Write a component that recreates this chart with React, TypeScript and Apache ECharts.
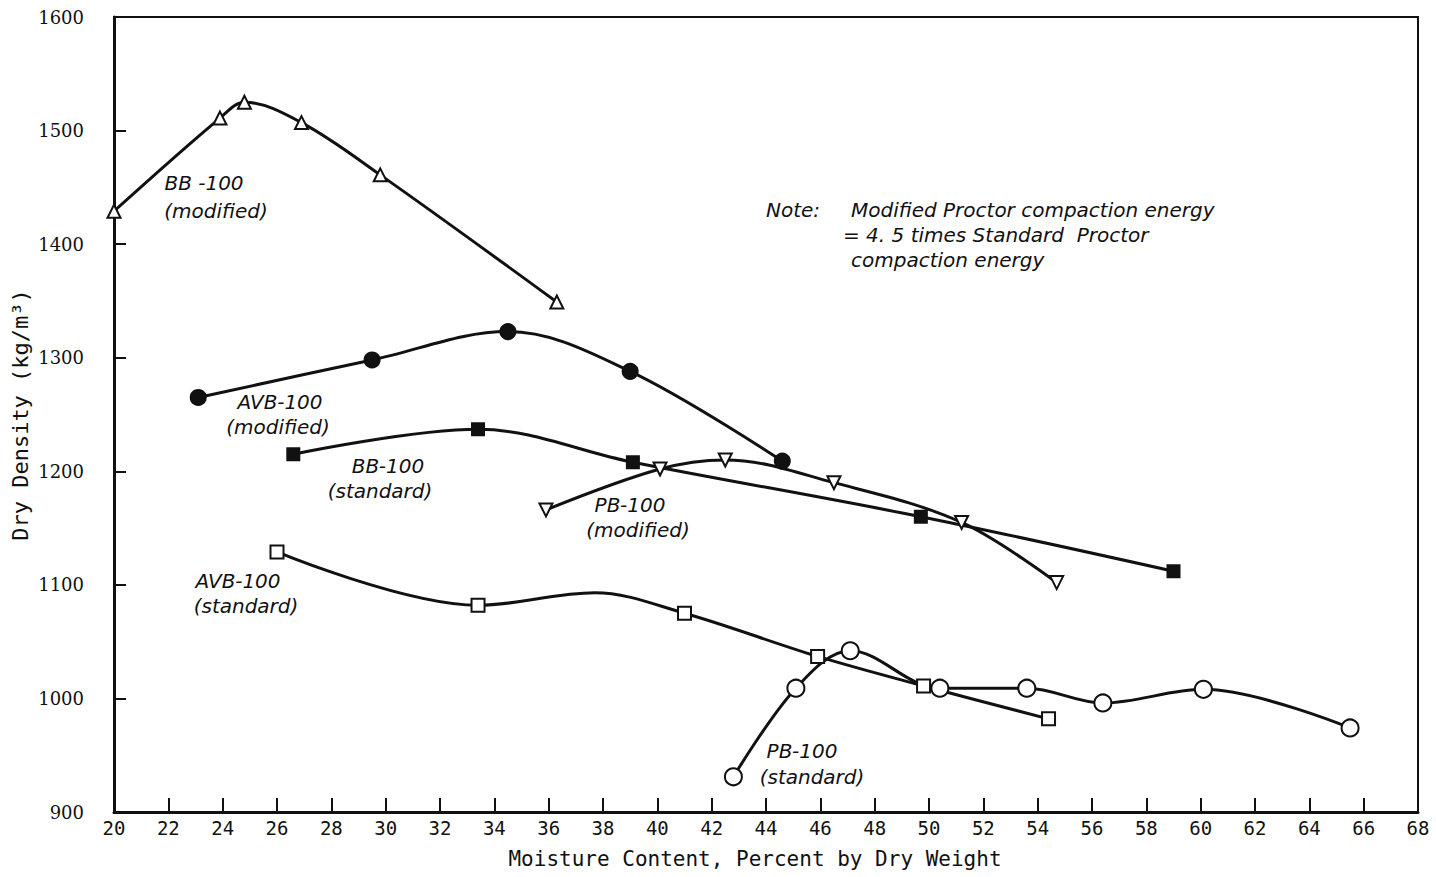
import { useEffect, useRef } from "react";
import * as echarts from "echarts";

// Compaction curves: moisture content (%) vs dry density (kg/m³)
const bbModX = [20.0, 23.9, 24.8, 26.9, 29.8, 36.3];
const bbModY = [1429, 1511, 1525, 1507, 1461, 1349];

const avbModX = [23.1, 29.5, 34.5, 39.0, 44.6];
const avbModY = [1265, 1298, 1323, 1288, 1209];

const bbStdX = [26.6, 33.4, 39.1, 49.7, 59.0];
const bbStdY = [1215, 1237, 1208, 1160, 1112];

const pbModX = [35.9, 40.1, 42.5, 46.5, 51.2, 54.7];
const pbModY = [1166, 1202, 1210, 1190, 1155, 1102];

// the 37.7 vertex is a bend of the drawn curve, not a test point
const avbStdX = [26.0, 33.4, 37.7, 41.0, 45.9, 49.8, 54.4];
const avbStdY = [1129, 1082, 1093, 1075, 1037, 1011, 982];
const avbStdMarked = [true, true, false, true, true, true, true];

const pbStdX = [42.8, 45.1, 47.1, 50.4, 53.6, 56.4, 60.1, 65.5];
const pbStdY = [931, 1009, 1042, 1009, 1009, 996, 1008, 974];

const X_MIN = 20;
const X_MAX = 68;
const X_STEP = 2;
const Y_MIN = 900;
const Y_MAX = 1600;
const Y_STEP = 100;

const X_TITLE = "Moisture Content, Percent by Dry Weight";
const Y_TITLE = "Dry Density (kg/m³)";

const INK = "#111";

const pairs = (xs: number[], ys: number[], marked?: boolean[]) =>
  xs.map((x, i) =>
    marked && !marked[i] ? { value: [x, ys[i]], symbol: "none" } : { value: [x, ys[i]] }
  );

const curve = (
  name: string,
  data: any[],
  symbol: string,
  size: number,
  filled: boolean,
  rotate = 0
) => ({
  name,
  type: "line",
  data,
  smooth: 0.35,
  symbol,
  symbolSize: size,
  symbolRotate: rotate,
  showAllSymbol: true,
  lineStyle: { color: INK, width: 3 },
  itemStyle: {
    color: filled ? INK : "#fff",
    borderColor: INK,
    borderWidth: 2,
  },
  z: 3,
});

const italic = (text: string, x: number, y: number, align = "center") => ({
  type: "text",
  x,
  y,
  style: {
    text,
    fill: INK,
    fontSize: 20,
    fontStyle: "italic",
    fontFamily: "DejaVu Sans",
    align,
    verticalAlign: "middle",
  },
  z: 10,
});

export default function App() {
  const ref = useRef<HTMLDivElement>(null);

  useEffect(() => {
    if (!ref.current) return;
    const chart = echarts.init(ref.current, undefined, { renderer: "svg" });
    chart.setOption({
      animation: false,
      backgroundColor: "#fff",
      grid: {
        left: 114,
        right: 18,
        top: 17,
        bottom: 65,
        containLabel: false,
        outerBoundsMode: "none",
        show: true,
        borderColor: INK,
        borderWidth: 2,
        backgroundColor: "transparent",
      },
      xAxis: {
        type: "value",
        min: X_MIN,
        max: X_MAX,
        interval: X_STEP,
        name: X_TITLE,
        nameLocation: "middle",
        nameGap: 36,
        nameTextStyle: {
          fontFamily: "DejaVu Sans Mono",
          fontSize: 21,
          color: INK,
          padding: [0, 22, 0, 0],
        },
        axisLine: { show: true, lineStyle: { color: INK, width: 3 } },
        axisTick: { show: true, inside: true, length: 14, lineStyle: { color: INK, width: 2 } },
        axisLabel: {
          fontFamily: "DejaVu Sans Mono",
          fontSize: 19,
          color: INK,
          margin: 6,
          showMinLabel: true,
          showMaxLabel: true,
          formatter: (v: number) => String(v),
        },
        splitLine: { show: false },
      },
      yAxis: {
        type: "value",
        min: Y_MIN,
        max: Y_MAX,
        interval: Y_STEP,
        axisLine: { show: true, lineStyle: { color: INK, width: 3 } },
        axisTick: { show: true, inside: true, length: 12, lineStyle: { color: INK, width: 2 } },
        axisLabel: {
          fontFamily: "DejaVu Serif",
          fontSize: 18,
          color: INK,
          margin: 30,
          formatter: (v: number) => String(v),
        },
        splitLine: { show: false },
      },
      series: [
        curve("BB-100 (modified)", pairs(bbModX, bbModY), "triangle", 13, false),
        curve("AVB-100 (modified)", pairs(avbModX, avbModY), "circle", 15, true),
        curve("BB-100 (standard)", pairs(bbStdX, bbStdY), "rect", 12, true),
        curve("PB-100 (modified)", pairs(pbModX, pbModY), "triangle", 13, false, 180),
        curve("AVB-100 (standard)", pairs(avbStdX, avbStdY, avbStdMarked), "rect", 13, false),
        curve("PB-100 (standard)", pairs(pbStdX, pbStdY), "circle", 17, false),
      ],
      graphic: [
        {
          type: "text",
          x: 20,
          y: 415,
          rotation: Math.PI / 2,
          style: {
            text: Y_TITLE,
            fill: INK,
            fontSize: 22,
            fontFamily: "DejaVu Sans Mono",
            align: "center",
            verticalAlign: "middle",
          },
        },
        italic("BB -100", 204, 183),
        italic("(modified)", 216, 211),
        italic("AVB-100", 280, 402),
        italic("(modified)", 278, 427),
        italic("BB-100", 388, 466),
        italic("(standard)", 380, 491),
        italic("PB-100", 630, 505),
        italic("(modified)", 638, 530),
        italic("AVB-100", 238, 581),
        italic("(standard)", 246, 606),
        italic("PB-100", 802, 751),
        italic("(standard)", 812, 777),
        italic("Note:", 766, 210, "left"),
        italic("Modified Proctor compaction energy", 851, 210, "left"),
        italic("= 4. 5 times Standard  Proctor", 843, 235, "left"),
        italic("compaction energy", 851, 260, "left"),
      ],
    });
    return () => chart.dispose();
  }, []);

  return (
    <div
      ref={ref}
      style={{ position: "absolute", left: 0, top: 0, width: 1436, height: 877, background: "#fff" }}
    />
  );
}
